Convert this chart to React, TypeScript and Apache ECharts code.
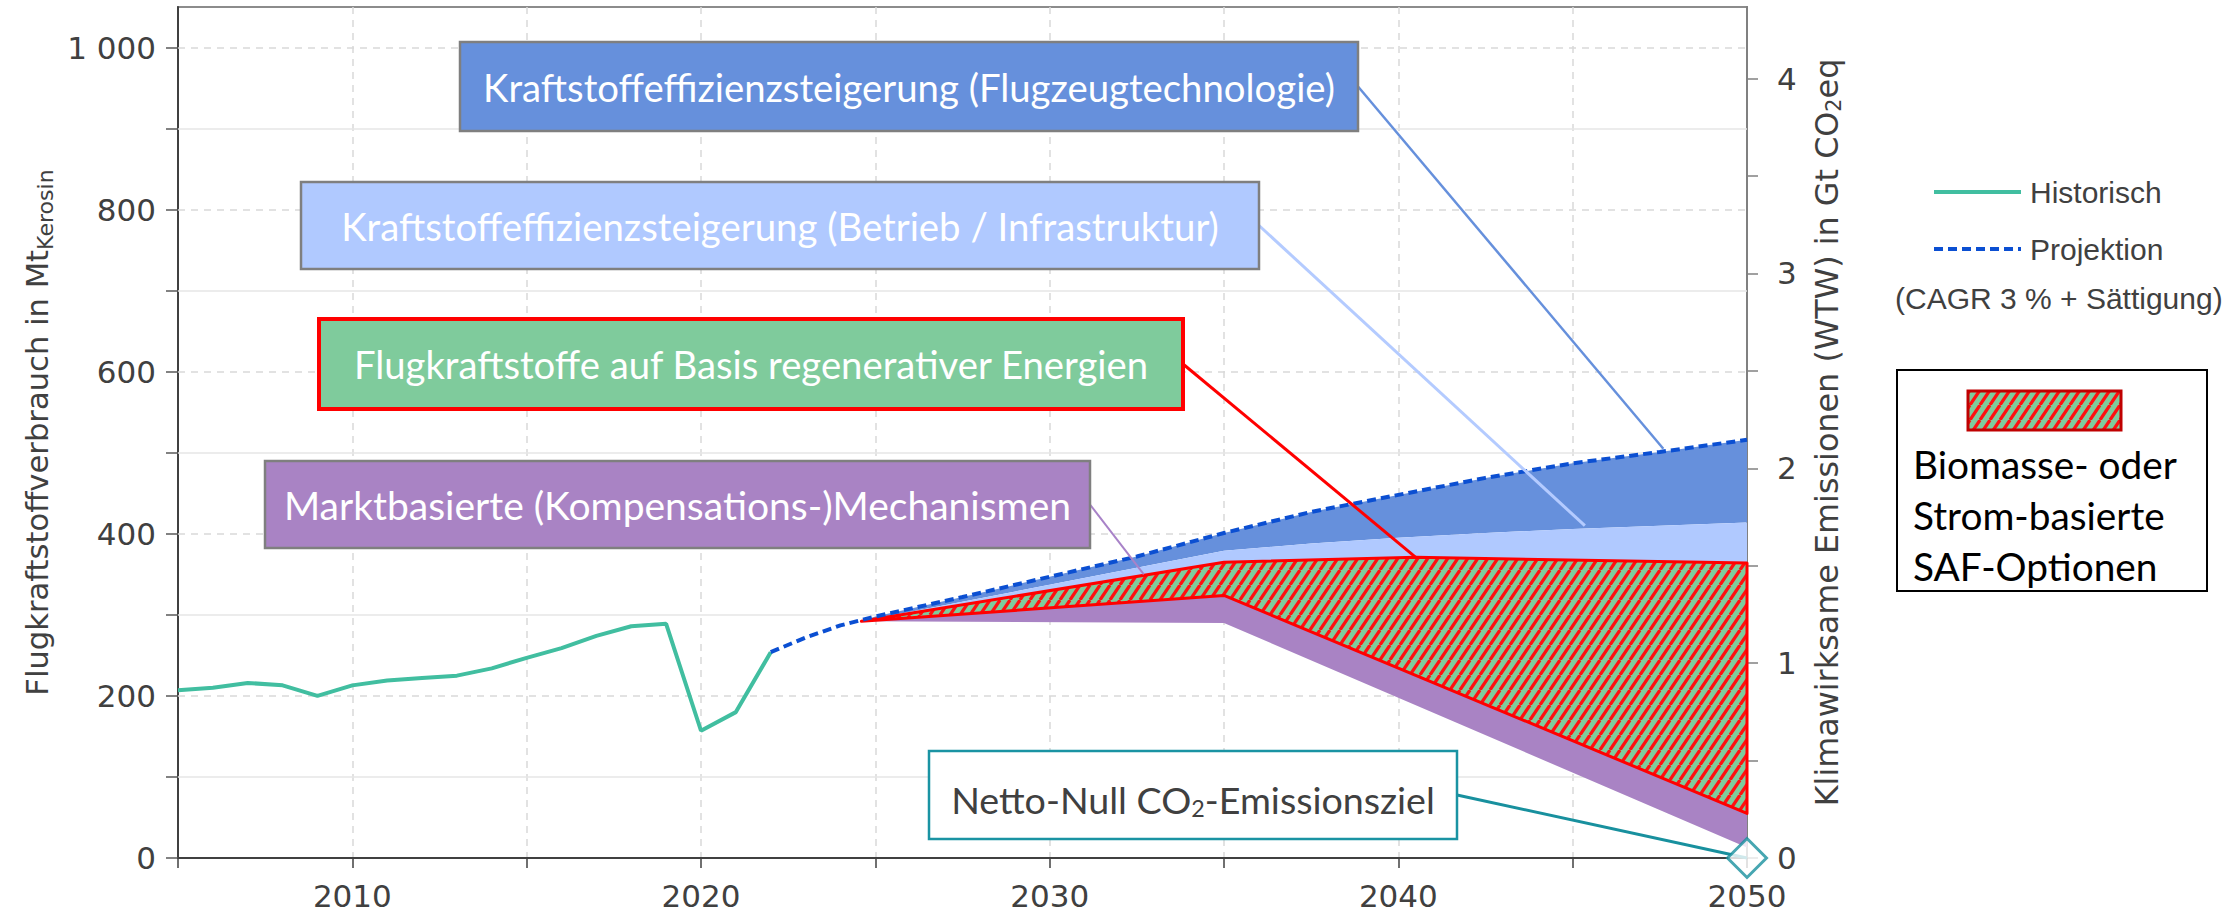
import React, { useEffect, useRef } from "react";
import * as echarts from "echarts";

// ---------- data ----------
const HIST_YEARS = [2005, 2006, 2007, 2008, 2009, 2010, 2011, 2012, 2013, 2014, 2015, 2016, 2017, 2018, 2019, 2020, 2021, 2022];
const HIST_VALUES = [207, 210, 216, 213, 200, 213, 219, 222, 225, 234, 247, 259, 274, 286, 289, 157, 180, 254];

const PROJ_YEARS = [2022, 2023, 2024, 2025, 2027.5, 2030, 2032.5, 2035, 2037.5, 2040, 2042.5, 2045, 2047.5, 2050];
const PROJ_VALUES = [254, 272, 287, 298, 322, 347, 372, 401, 427, 448, 469, 487, 501, 516];

const SPLIT_START = [2024.6, 292];

const BETRIEB_YEARS = [2035, 2037.5, 2040, 2042.5, 2045, 2047.5, 2050];
const BETRIEB_TOP = [379, 388, 395, 401, 406, 410, 414];

const SAF_TOP_YEARS = [2035, 2040.5, 2050];
const SAF_TOP = [365, 371, 364];

const SAF_BOTTOM_YEARS = [2035, 2050];
const SAF_BOTTOM = [324, 55];

const KOMP_BOTTOM_YEARS = [2035, 2050];
const KOMP_BOTTOM = [290, 13];

const NET_ZERO = [2050, 0];

const X_LABELS = [2010, 2020, 2030, 2040, 2050];
const LEFT_LABELS = [0, 200, 400, 600, 800, 1000];
const LEFT_TICKS = [0, 100, 200, 300, 400, 500, 600, 700, 800, 900, 1000];
const RIGHT_LABELS = [0, 1, 2, 3, 4];
const RIGHT_TICKS = [0, 0.5, 1, 1.5, 2, 2.5, 3, 3.5, 4];
const LEFT_MAX = 1050;
const MT_PER_GT = 240.4;

const ANNOTATION_TEXTS = [
  "Kraftstoffeffizienzsteigerung (Flugzeugtechnologie)",
  "Kraftstoffeffizienzsteigerung (Betrieb / Infrastruktur)",
  "Flugkraftstoffe auf Basis regenerativer Energien",
  "Marktbasierte (Kompensations-)Mechanismen",
];
const ANNOTATION_TARGETS = [
  [2047.6, 505],
  [2045.35, 410],
  [2040.5, 371],
  [2032.7, 350],
];
const SAF_LEGEND_LINES = ["Biomasse- oder", "Strom-basierte", "SAF-Optionen"];

// ---------- styles / layout ----------
const C_TEAL = "#41bea0";
const C_PROJ = "#0b4fd2";
const C_DARKBLUE = "#6690dc";
const C_LIGHTBLUE = "#b0c9ff";
const C_GREEN = "#7fcb9c";
const C_RED = "#ff1010";
const C_PURPLE = "#a983c4";
const C_NETTO = "#18909e";
const C_TEXT = "#404040";

const TICK_FONT = "DejaVu Sans";
const LEGEND_FONT = "Liberation Sans";
const BOX_FONT = "Lato";

const BOXES = [
  { x: 460, y: 42, w: 898, h: 89, fill: C_DARKBLUE, stroke: "#7f7f7f", lw: 2.5, color: "#ffffff", tw: 852, line: C_DARKBLUE, llw: 2.5 },
  { x: 301, y: 182, w: 958, h: 87, fill: C_LIGHTBLUE, stroke: "#7f7f7f", lw: 2.5, color: "#ffffff", tw: 878, line: "#b4cbff", llw: 3 },
  { x: 319, y: 319, w: 864, h: 90, fill: C_GREEN, stroke: "#ff0000", lw: 4, color: "#ffffff", tw: 796, line: "#ff0000", llw: 3 },
  { x: 265, y: 461, w: 825, h: 87, fill: C_PURPLE, stroke: "#7f7f7f", lw: 2.5, color: "#ffffff", tw: 787, line: "#a882c8", llw: 2 },
];
const NETTO_BOX = { x: 929, y: 751, w: 528, h: 88, tw: 486 };

function fitSize(text: string, family: string, target: number) {
  const ctx = document.createElement("canvas").getContext("2d");
  if (!ctx) return 38;
  ctx.font = `100px "${family}"`;
  const w = ctx.measureText(text).width;
  return w > 0 ? (100 * target) / w : 38;
}

function makeHatch() {
  const w = 10;
  const h = 15;
  const c = document.createElement("canvas");
  c.width = w;
  c.height = h;
  const ctx = c.getContext("2d")!;
  ctx.fillStyle = C_GREEN;
  ctx.fillRect(0, 0, w, h);
  ctx.strokeStyle = C_RED;
  ctx.lineWidth = 3.2;
  for (const dx of [-w, 0, w]) {
    ctx.beginPath();
    ctx.moveTo(dx, h);
    ctx.lineTo(dx + w, 0);
    ctx.stroke();
  }
  return c;
}

const pts = (years: number[], vals: number[]) => years.map((y, i) => [y, vals[i]]);

export default function App() {
  const ref = useRef<HTMLDivElement>(null);

  useEffect(() => {
    document.body.style.margin = "0";
    const el = ref.current!;
    const chart = echarts.init(el, undefined, { renderer: "svg", width: 2223, height: 915 });

    const hatch = { image: makeHatch(), repeat: "repeat" };

    const projPts = pts(PROJ_YEARS, PROJ_VALUES);
    const techTop = [SPLIT_START, ...projPts.filter((p) => p[0] > SPLIT_START[0])];
    const betriebTop = [SPLIT_START, ...pts(BETRIEB_YEARS, BETRIEB_TOP)];
    const safTop = [SPLIT_START, ...pts(SAF_TOP_YEARS, SAF_TOP)];
    const safBottom = [SPLIT_START, ...pts(SAF_BOTTOM_YEARS, SAF_BOTTOM)];
    const kompBottom = [SPLIT_START, ...pts(KOMP_BOTTOM_YEARS, KOMP_BOTTOM)];

    const band = (name: string, upper: number[][], lower: number[][], style: any, z: number) => ({
      type: "custom",
      name,
      coordinateSystem: "cartesian2d",
      xAxisIndex: 0,
      yAxisIndex: 0,
      silent: true,
      clip: false,
      z,
      data: [upper[0]],
      renderItem: (_params: any, api: any) => {
        const ring = [...upper, ...lower.slice().reverse()].map((p) => api.coord(p));
        return { type: "polygon", shape: { points: ring }, style };
      },
    });

    const leftMainSize = fitSize("Flugkraftstoffverbrauch in Mt", TICK_FONT, 446);
    const rightMainSize = fitSize("Klimawirksame Emissionen (WTW) in Gt COeq", TICK_FONT, 735);

    const dashedGrid = LEFT_LABELS.filter((v) => v > 0);
    const solidGrid = LEFT_TICKS.filter((v) => LEFT_LABELS.indexOf(v) < 0);

    const option: any = {
      animation: false,
      backgroundColor: "#ffffff",
      grid: {
        left: 178,
        right: 476,
        top: 7,
        bottom: 57,
        show: true,
        borderColor: "#8c8c8c",
        borderWidth: 2,
        backgroundColor: "transparent",
        outerBoundsMode: "none",
      },
      legend: {
        orient: "vertical",
        left: 1932,
        top: 177,
        padding: 0,
        itemWidth: 87,
        itemHeight: 30,
        itemGap: 27,
        selectedMode: false,
        data: ["Historisch", "Projektion"],
        itemStyle: { color: "transparent", borderColor: "transparent", borderWidth: 0, opacity: 0 },
        lineStyle: { width: 4 },
        textStyle: { fontFamily: LEGEND_FONT, fontSize: 30, color: C_TEXT, padding: [0, 0, 0, 4] },
      },
      xAxis: {
        type: "value",
        min: 2005,
        max: 2050,
        interval: 5,
        axisLine: { show: true, lineStyle: { color: "#404040", width: 2 } },
        axisTick: { show: true, length: 10, lineStyle: { color: "#404040", width: 1.5 } },
        axisLabel: {
          customValues: X_LABELS,
          fontFamily: TICK_FONT,
          fontSize: 31,
          color: C_TEXT,
          margin: 22,
          formatter: (v: number) => String(v),
        },
        splitLine: { show: true, lineStyle: { color: "#d9d9d9", width: 1.5, type: [7, 6] } },
      },
      yAxis: [
        {
          type: "value",
          min: 0,
          max: LEFT_MAX,
          position: "left",
          axisLine: { show: true, lineStyle: { color: "#404040", width: 2 } },
          axisTick: { show: true, customValues: LEFT_TICKS, length: 12, lineStyle: { color: "#595959", width: 1.5 } },
          axisLabel: {
            customValues: LEFT_LABELS,
            fontFamily: TICK_FONT,
            fontSize: 31,
            color: C_TEXT,
            margin: 22,
            formatter: (v: number) => String(v).replace(/\B(?=(\d{3})+(?!\d))/g, " "),
          },
          splitLine: { show: false },
          name: "{m|Flugkraftstoffverbrauch in Mt}{s|Kerosin}",
          nameLocation: "middle",
          nameGap: 118,
          nameTextStyle: {
            rich: {
              m: { fontFamily: TICK_FONT, fontSize: leftMainSize, color: C_TEXT },
              s: { fontFamily: TICK_FONT, fontSize: leftMainSize * 0.72, color: C_TEXT, padding: [16, 0, 0, 0] },
            },
          },
        },
        {
          type: "value",
          min: 0,
          max: LEFT_MAX / MT_PER_GT,
          position: "right",
          axisLine: { show: true, lineStyle: { color: "#808080", width: 2 } },
          axisTick: { show: true, customValues: RIGHT_TICKS, length: 11, lineStyle: { color: "#808080", width: 1.5 } },
          axisLabel: {
            customValues: RIGHT_LABELS,
            fontFamily: TICK_FONT,
            fontSize: 31,
            color: C_TEXT,
            margin: 30,
            formatter: (v: number) => String(Math.round(v)),
          },
          splitLine: { show: false },
          name: "{m|Klimawirksame Emissionen (WTW) in Gt CO}{s|2}{m|eq}",
          nameLocation: "middle",
          nameGap: 62,
          nameTextStyle: {
            rich: {
              m: { fontFamily: TICK_FONT, fontSize: rightMainSize, color: C_TEXT },
              s: { fontFamily: TICK_FONT, fontSize: rightMainSize * 0.65, color: C_TEXT, padding: [14, 0, 0, 0] },
            },
          },
        },
      ],
      series: [
        {
          type: "line",
          name: "gridlines",
          data: [],
          silent: true,
          z: 1,
          markLine: {
            silent: true,
            z: 1,
            symbol: ["none", "none"],
            label: { show: false },
            animation: false,
            data: [
              ...dashedGrid.map((v) => ({ yAxis: v, lineStyle: { color: "#d9d9d9", width: 1.5, type: [7, 6] } })),
              ...solidGrid.map((v) => ({ yAxis: v, lineStyle: { color: "#e6e6e6", width: 1.5, type: "solid" } })),
            ],
          },
        },
        band("Flugzeugtechnologie", techTop, betriebTop, { fill: C_DARKBLUE }, 3),
        band("Betrieb / Infrastruktur", betriebTop, safTop, { fill: C_LIGHTBLUE }, 3),
        band("Kompensation", safBottom, kompBottom, { fill: C_PURPLE }, 3),
        band("SAF", safTop, safBottom, { fill: hatch, stroke: "#ff0000", lineWidth: 3, lineJoin: "round" }, 4),
        {
          type: "line",
          name: "Historisch",
          data: pts(HIST_YEARS, HIST_VALUES),
          symbol: "none",
          z: 6,
          lineStyle: { color: C_TEAL, width: 4 },
          itemStyle: { color: C_TEAL },
        },
        {
          type: "line",
          name: "Projektion",
          data: projPts,
          symbol: "none",
          z: 7,
          lineStyle: { color: C_PROJ, width: 4, type: [9, 5] },
          itemStyle: { color: C_PROJ },
        },
        {
          type: "scatter",
          name: "Netto-Null",
          data: [NET_ZERO],
          symbol: "diamond",
          symbolSize: 39,
          clip: false,
          silent: true,
          z: 20,
          itemStyle: { color: "#ffffff", borderColor: C_NETTO, borderWidth: 3 },
        },
      ],
    };

    chart.setOption(option);

    const graphics: any[] = [];
    BOXES.forEach((b, i) => {
      const target = chart.convertToPixel({ xAxisIndex: 0, yAxisIndex: 0 }, ANNOTATION_TARGETS[i]) as number[];
      graphics.push({
        type: "line",
        z: 50,
        silent: true,
        shape: { x1: b.x + b.w, y1: b.y + b.h / 2, x2: target[0], y2: target[1] },
        style: { stroke: b.line, lineWidth: b.llw },
      });
      graphics.push({
        type: "rect",
        z: 51,
        silent: true,
        shape: { x: b.x, y: b.y, width: b.w, height: b.h },
        style: { fill: b.fill, stroke: b.stroke, lineWidth: b.lw },
      });
      graphics.push({
        type: "text",
        z: 52,
        silent: true,
        style: {
          text: ANNOTATION_TEXTS[i],
          x: b.x + b.w / 2,
          y: b.y + b.h / 2,
          align: "center",
          verticalAlign: "middle",
          fontFamily: BOX_FONT,
          fontSize: fitSize(ANNOTATION_TEXTS[i], BOX_FONT, b.tw),
          fill: b.color,
        },
      });
    });

    // Netto-Null box
    const nz = chart.convertToPixel({ xAxisIndex: 0, yAxisIndex: 0 }, NET_ZERO) as number[];
    const nb = NETTO_BOX;
    const nSize = fitSize("Netto-Null CO2-Emissionsziel", BOX_FONT, nb.tw + 6);
    graphics.push({
      type: "line",
      z: 10,
      silent: true,
      shape: { x1: nb.x + nb.w, y1: nb.y + nb.h / 2, x2: nz[0], y2: nz[1] },
      style: { stroke: C_NETTO, lineWidth: 3 },
    });
    graphics.push({
      type: "rect",
      z: 51,
      silent: true,
      shape: { x: nb.x, y: nb.y, width: nb.w, height: nb.h },
      style: { fill: "#ffffff", stroke: "#1a93a3", lineWidth: 2.5 },
    });
    graphics.push({
      type: "text",
      z: 52,
      silent: true,
      style: {
        text: "{m|Netto-Null CO}{s|2}{m|-Emissionsziel}",
        x: nb.x + nb.w / 2,
        y: nb.y + nb.h / 2 + 4,
        align: "center",
        verticalAlign: "middle",
        rich: {
          m: { fontFamily: BOX_FONT, fontSize: nSize, fill: C_TEXT },
          s: { fontFamily: BOX_FONT, fontSize: nSize * 0.62, fill: C_TEXT, padding: [18, 0, 0, 0] },
        },
      },
    });

    // legend extras
    graphics.push({
      type: "text",
      silent: true,
      style: {
        text: "(CAGR 3 % + Sättigung)",
        x: 1895,
        y: 298,
        align: "left",
        verticalAlign: "middle",
        fontFamily: LEGEND_FONT,
        fontSize: 30,
        fill: C_TEXT,
      },
    });
    graphics.push({
      type: "rect",
      silent: true,
      shape: { x: 1897, y: 370, width: 310, height: 221 },
      style: { fill: "#ffffff", stroke: "#000000", lineWidth: 2 },
    });
    graphics.push({
      type: "rect",
      silent: true,
      z: 2,
      shape: { x: 1968, y: 391, width: 153, height: 39 },
      style: { fill: hatch, stroke: "#c00000", lineWidth: 3 },
    });
    const legSize = fitSize(SAF_LEGEND_LINES[0], BOX_FONT, 264);
    SAF_LEGEND_LINES.forEach((t, i) => {
      graphics.push({
        type: "text",
        silent: true,
        z: 2,
        style: {
          text: t,
          x: 1913,
          y: 464 + i * 51,
          align: "left",
          verticalAlign: "middle",
          fontFamily: BOX_FONT,
          fontSize: legSize,
          fill: "#000000",
        },
      });
    });

    chart.setOption({ graphic: graphics });

    return () => chart.dispose();
  }, []);

  return <div ref={ref} style={{ width: 2223, height: 915 }} />;
}
